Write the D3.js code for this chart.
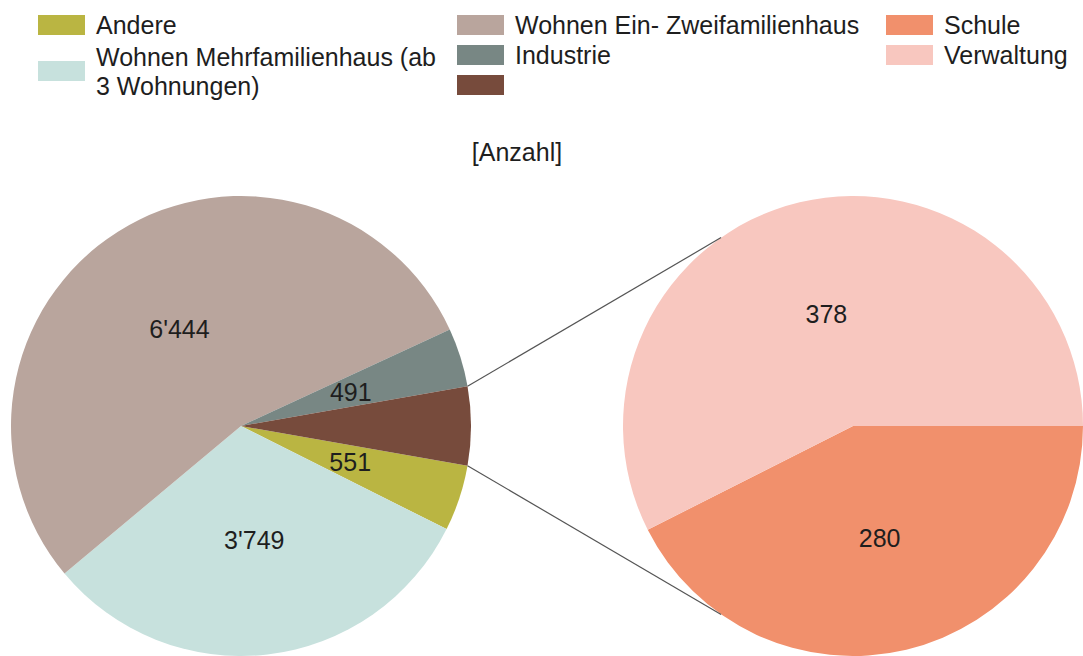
<!DOCTYPE html>
<html>
  <head>
    <meta charset="utf-8">
    <title>Pie of pie</title>
    <style>
      body { margin: 0; background: #fff; }
      svg text { font-family: "Liberation Sans", Arial, sans-serif; fill: #1e1e1e; }
      .lbl { font-size: 25px; text-anchor: middle; }
      .legend text { font-size: 25px; }
    </style>
  </head>
  <body>
    <div id="chart"></div>
    <script src="https://d3js.org/d3.v7.min.js"></script>
    <script>
    // main pie: last slice is the group that is split into the second pie
    var mainLabels = ['Andere', 'Wohnen Mehrfamilienhaus (ab 3 Wohnungen)',
                      'Wohnen Ein- Zweifamilienhaus', 'Industrie', ''];
    var mainValues = [551, 3749, 6444, 491];
    var subLabels = ['Schule', 'Verwaltung'];
    var subValues = [280, 378];
    var mainColors = ['#bab542', '#c7e1dd', '#b9a59d', '#788784', '#774b3c'];
    var subColors = ['#f1906c', '#f8c7bf'];

    function drawChart() {
      var width = 1083, height = 656;
      var radius = 230;
      var leftC = [241, 426], rightC = [853, 426];

      var fmt = d3.formatLocale({decimal: '.', thousands: "'", grouping: [3], currency: ['', '']}).format(',');

      var values = mainValues.concat([d3.sum(subValues)]);
      var total = d3.sum(values);
      var half = Math.PI * values[values.length - 1] / total;

      var svg = d3.select('#chart')
        .append('svg')
        .attr('width', width)
        .attr('height', height);

      var arc = d3.arc().innerRadius(0).outerRadius(radius);
      var lblArc = d3.arc().innerRadius(0).outerRadius(radius);

      // left pie, split slice centred at 3 o'clock
      var pieMain = d3.pie().sort(null)
        .startAngle(Math.PI / 2 + half)
        .endAngle(Math.PI / 2 + half + 2 * Math.PI);

      var gl = svg.append('g')
        .attr('transform', 'translate(' + leftC[0] + ',' + leftC[1] + ')');
      var mainArcs = pieMain(values);
      gl.selectAll('path')
        .data(mainArcs)
        .enter()
        .append('path')
        .attr('d', arc)
        .attr('fill', function(d, i) { return mainColors[i]; });
      gl.selectAll('text')
        .data(mainArcs.slice(0, mainValues.length))
        .enter()
        .append('text')
        .attr('class', 'lbl')
        .attr('transform', function(d) { return 'translate(' + lblArc.centroid(d) + ')'; })
        .attr('dy', '0.36em')
        .text(function(d) { return fmt(d.value); });

      // right pie
      var pieSub = d3.pie().sort(null)
        .startAngle(Math.PI / 2)
        .endAngle(Math.PI / 2 + 2 * Math.PI);
      var gr = svg.append('g')
        .attr('transform', 'translate(' + rightC[0] + ',' + rightC[1] + ')');
      var subArcs = pieSub(subValues);
      gr.selectAll('path')
        .data(subArcs)
        .enter()
        .append('path')
        .attr('d', arc)
        .attr('fill', function(d, i) { return subColors[i]; });
      gr.selectAll('text')
        .data(subArcs)
        .enter()
        .append('text')
        .attr('class', 'lbl')
        .attr('transform', function(d) { return 'translate(' + lblArc.centroid(d) + ')'; })
        .attr('dy', '0.36em')
        .text(function(d) { return fmt(d.value); });

      // connector lines
      var hit = 55 * Math.PI / 180;
      [-1, 1].forEach(function(s) {
        svg.append('line')
          .attr('x1', leftC[0] + radius * Math.cos(half))
          .attr('y1', leftC[1] + s * radius * Math.sin(half))
          .attr('x2', rightC[0] - radius * Math.cos(hit))
          .attr('y2', rightC[1] + s * radius * Math.sin(hit))
          .attr('stroke', '#555')
          .attr('stroke-width', 1.2);
      });

      // title
      svg.append('text')
        .attr('x', 517)
        .attr('y', 161)
        .attr('text-anchor', 'middle')
        .style('font-size', '25px')
        .text('[Anzahl]');

      // legend
      var legendLabels = mainLabels.concat(subLabels);
      var legendColors = mainColors.concat(subColors);
      var colX = [38, 457, 886];
      var pos = [[0, 25], [0, 71], [1, 25], [1, 55], [1, 85], [2, 25], [2, 55]];
      var leg = svg.append('g').attr('class', 'legend');
      legendLabels.forEach(function(l, i) {
        var x = colX[pos[i][0]], cy = pos[i][1];
        leg.append('rect')
          .attr('x', x).attr('y', cy - 10)
          .attr('width', 47).attr('height', 20)
          .attr('fill', legendColors[i]);
        var lines = l.indexOf('(ab') > 0 ? ['Wohnen Mehrfamilienhaus (ab', '3 Wohnungen)'] : [l];
        var t = leg.append('text')
          .attr('x', x + 58)
          .attr('y', cy - (lines.length - 1) * 14.5)
          .attr('dy', '0.36em');
        lines.forEach(function(s, j) {
          t.append('tspan').attr('x', x + 58).attr('dy', j ? 29 : '0.36em').text(s);
        });
      });
    }
    drawChart();
    </script>
  </body>
</html>
